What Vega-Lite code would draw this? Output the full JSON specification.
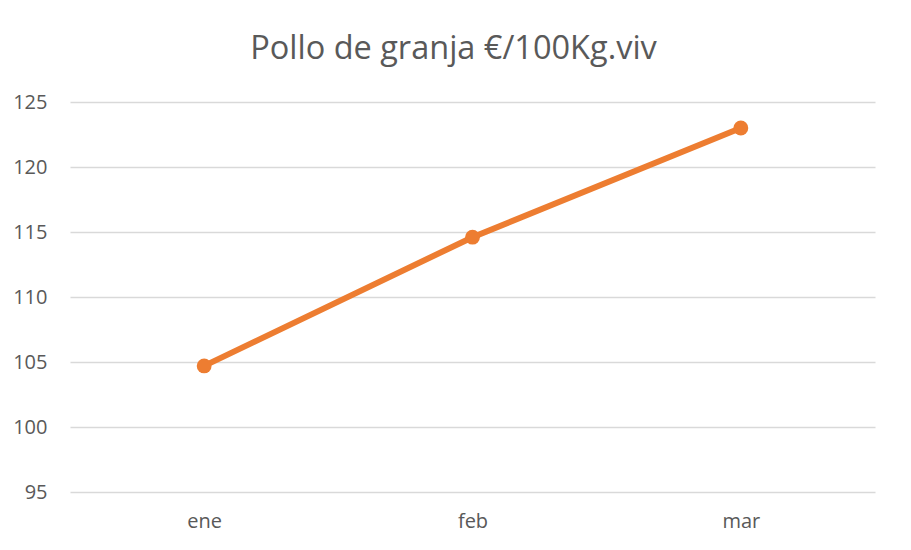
{
  "$schema": "https://vega.github.io/schema/vega-lite/v6.json",
  "width": 805,
  "height": 390,
  "autosize": "none",
  "padding": {"left": 70, "top": 102, "right": 36, "bottom": 58},
  "background": "white",
  "title": {
    "text": "Pollo de granja €/100Kg.viv",
    "font": "Open Sans",
    "fontSize": 32.5,
    "fontWeight": "normal",
    "color": "#595959",
    "anchor": "middle",
    "dx": -19,
    "offset": 27
  },
  "data": {
    "values": [
      {"mes": "ene", "valor": 104.7},
      {"mes": "feb", "valor": 114.6},
      {"mes": "mar", "valor": 123.0}
    ]
  },
  "config": {
    "view": {"stroke": null},
    "axis": {
      "labelFont": "Open Sans",
      "labelFontSize": 20,
      "labelColor": "#595959",
      "domain": false,
      "ticks": false
    }
  },
  "encoding": {
    "x": {
      "field": "mes",
      "type": "ordinal",
      "sort": ["ene", "feb", "mar"],
      "scale": {"type": "point", "padding": 0.5},
      "axis": {"title": null, "labelAngle": 0, "labelPadding": 19, "grid": false}
    },
    "y": {
      "field": "valor",
      "type": "quantitative",
      "scale": {"domain": [95, 125], "nice": false, "zero": false},
      "axis": {"title": null, "values": [95, 100, 105, 110, 115, 120, 125], "gridColor": "#D9D9D9", "gridWidth": 1.3, "labelPadding": 23}
    }
  },
  "layer": [
    {"mark": {"type": "line", "color": "#ED7D31", "strokeWidth": 6, "strokeCap": "round"}},
    {"mark": {"type": "point", "filled": true, "color": "#ED7D31", "opacity": 1, "size": 220}}
  ]
}
